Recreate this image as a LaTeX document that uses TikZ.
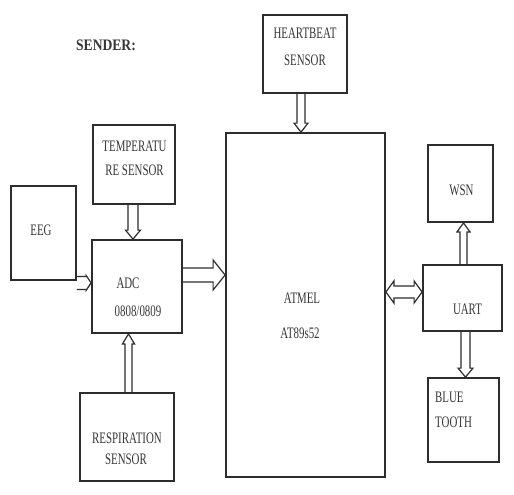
\documentclass[tikz,border=0pt]{standalone}
\usepackage{fontspec}
\setmainfont{Liberation Serif}[FakeStretch=0.68]
\newfontfamily\senderfont{Liberation Serif}[FakeStretch=0.85]
\usetikzlibrary{calc}
\definecolor{ln}{RGB}{45,45,45}
\definecolor{tx}{RGB}{55,55,55}
\tikzset{
  box/.style={draw=ln, line width=1.8pt, inner sep=0pt, fill=white},
  lbl/.style={text=tx, inner sep=0pt, font=\fontsize{16}{19}\selectfont},
  arr/.style={draw=ln, line width=1.2pt, line join=miter},
}
\newcommand\barrowdown[5]{\draw[arr] let \p1=(#1), \p2=(#2) in
  ({\x1-#3},\y1) -- ({\x1-#3},{\y2+#5}) -- ({\x1-#4},{\y2+#5}) -- (\x1,\y2)
  -- ({\x1+#4},{\y2+#5}) -- ({\x1+#3},{\y2+#5}) -- ({\x1+#3},\y1);}
\newcommand\barrowup[5]{\draw[arr] let \p1=(#1), \p2=(#2) in
  ({\x1-#3},\y1) -- ({\x1-#3},{\y2-#5}) -- ({\x1-#4},{\y2-#5}) -- (\x1,\y2)
  -- ({\x1+#4},{\y2-#5}) -- ({\x1+#3},{\y2-#5}) -- ({\x1+#3},\y1);}
\newcommand\barrowright[5]{\draw[arr] let \p1=(#1), \p2=(#2) in
  (\x1,{\y1+#3}) -- ({\x2-#5},{\y1+#3}) -- ({\x2-#5},{\y1+#4}) -- (\x2,\y1)
  -- ({\x2-#5},{\y1-#4}) -- ({\x2-#5},{\y1-#3}) -- (\x1,{\y1-#3});}
\newcommand\barrowboth[5]{\draw[arr] let \p1=(#1), \p2=(#2) in
  ({\x1+#5},{\y1+#3}) -- ({\x2-#5},{\y1+#3}) -- ({\x2-#5},{\y1+#4}) -- (\x2,\y1)
  -- ({\x2-#5},{\y1-#4}) -- ({\x2-#5},{\y1-#3}) -- ({\x1+#5},{\y1-#3})
  -- ({\x1+#5},{\y1-#4}) -- (\x1,\y1) -- ({\x1+#5},{\y1+#4}) -- cycle;}
\begin{document}
\begin{tikzpicture}[x=1pt,y=-1pt]
\fill[white] (0,0) rectangle (514,495);
\useasboundingbox (0,0) rectangle (514,495);

% boxes
\node[box, minimum width=84pt, minimum height=78pt] (heart) at (305,54) {};
\node[box, minimum width=82pt, minimum height=79pt] (temp) at (134,164.5) {};
\node[box, minimum width=65pt, minimum height=94pt] (eeg) at (43.5,233) {};
\node[box, minimum width=90pt, minimum height=93pt] (adc) at (137,286.5) {};
\node[box, minimum width=94pt, minimum height=88pt] (resp) at (127,437) {};
\node[box, minimum width=159pt, minimum height=344pt] (atmel) at (305.5,305) {};
\node[box, minimum width=65pt, minimum height=77pt] (wsn) at (460.5,183.5) {};
\node[box, minimum width=79pt, minimum height=66pt] (uart) at (462.5,298) {};
\node[box, minimum width=71pt, minimum height=84pt] (bt) at (463.5,420) {};

% texts
\node[lbl, font=\senderfont\bfseries\fontsize{16}{19}\selectfont] (sender) at (106,45) {SENDER:};
\node[lbl] (heart1) at (305,33) {HEARTBEAT};
\node[lbl] (heart2) at (305,60) {SENSOR};
\node[lbl] (temp1) at (134.5,146) {TEMPERATU};
\node[lbl] (temp2) at (134.5,170) {RE SENSOR};
\node[lbl] (eegt) at (41,230) {EEG};
\node[lbl] (adc1) at (128,283) {ADC};
\node[lbl] (adc2) at (138,311) {0808/0809};
\node[lbl] (resp1) at (127,438) {RESPIRATION};
\node[lbl] (resp2) at (126,459) {SENSOR};
\node[lbl] (atmel1) at (302,298) {ATMEL};
\node[lbl] (atmel2) at (300,333) {AT89s52};
\node[lbl] (wsnt) at (461.5,190) {WSN};
\node[lbl] (uartt) at (467.5,309) {UART};
\node[lbl, anchor=west] (bt1) at (435,397) {BLUE};
\node[lbl, anchor=west] (bt2) at (435,422) {TOOTH};

% arrows
\barrowdown{$(heart.south)+(-4,0)$}{atmel.north}{4pt}{7pt}{9pt}
\barrowdown{$(temp.south)+(-1,0)$}{adc.north}{5pt}{7.5pt}{9pt}
\barrowup{$(resp.north)+(1.5,0)$}{adc.south}{3.5pt}{6pt}{10pt}
\barrowright{$(eeg.south east)+(0,2)$}{adc.west}{6.5pt}{7.5pt}{5pt}
\barrowright{$(adc.east)+(0,-11.5)$}{atmel.west}{7pt}{15pt}{12pt}
\barrowboth{$(atmel.east |- uart.west)+(0,-6)$}{uart.west}{6pt}{11pt}{8pt}
\barrowup{$(uart.north)+(1,0)$}{wsn.south}{3.5pt}{6.5pt}{9pt}
\barrowdown{$(uart.south)+(3,0)$}{bt.north}{4.5pt}{7.5pt}{9pt}
\end{tikzpicture}
\end{document}
